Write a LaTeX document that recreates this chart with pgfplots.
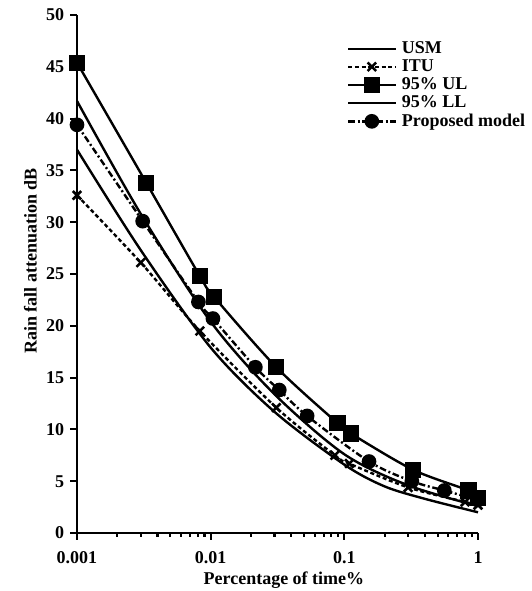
\documentclass[border=0pt]{standalone}
\usepackage{fontspec}
\setmainfont{Liberation Serif}
\usepackage{pgfplots}
\pgfplotsset{compat=1.18}
\begin{document}
\fontsize{13.5}{15}\selectfont\bfseries
\begin{tikzpicture}
\begin{axis}[
    name=ax,
    scale only axis,
    width=300.75pt, height=388.5pt,
    xmode=log,
    xmin=0.001, xmax=1,
    ymin=0, ymax=50,
    axis x line=bottom, axis y line=left,
    axis line style={line width=1.9pt, -},
    every tick/.style={line width=1.6pt, black},
    tick align=outside,
    major tick length=5pt,
    xtick={0.001,0.01,0.1,1},
    xticklabels={0.001,0.01,0.1,1},
    minor xtick={},
    ytick={0,5,...,50},
    /pgf/number format/assume math mode=true,
    tick label style={font=\fontsize{13.5}{15}\selectfont\bfseries},
    xticklabel style={yshift=-4pt},
    label style={font=\fontsize{13.5}{15}\selectfont\bfseries},
    xlabel={Percentage of time\%},
    ylabel={Rain fall attenuation dB},
    xlabel style={at={(axis description cs:0.516,-0.0907)}, anchor=center},
    ylabel style={at={(axis description cs:-0.1164,0.525)}, anchor=center, rotate=0},
    legend style={at={(0.663,0.958)}, anchor=north west, draw=none, fill=none,
        font=\fontsize{13.5}{15}\selectfont\bfseries, row sep=0pt,
        nodes={inner ysep=1.3pt, inner xsep=4pt}},
    legend cell align=left,
    legend image code/.code={\draw[mark repeat=2, mark phase=2, #1]
        plot coordinates {(0cm,0cm) (0.62cm,0cm) (1.24cm,0cm)};},
    every axis plot/.append style={line width=1.8pt, black},
    clip=false,
]
\addplot[solid, smooth, no markers] coordinates {
    (0.001,41.7) (0.003,30.8) (0.01,20.4) (0.03,13.4) (0.1,7.6) (0.3,4.6) (1,2.6)};
\addlegendentry{USM}
\addplot[densely dashed, smooth, mark=x, mark size=4.5pt, mark options={solid, line width=1.9pt}] coordinates {
    (0.001,32.6) (0.003,26.1) (0.0083,19.5) (0.031,12.1) (0.085,7.5) (0.109,6.7) (0.3,4.4) (0.8,3.0) (1,2.7)};
\addlegendentry{ITU}
\addplot[solid, smooth, mark=square*, mark size=5.2pt] coordinates {
    (0.001,45.4) (0.0033,33.8) (0.0083,24.8) (0.0106,22.8) (0.031,16.0) (0.089,10.6) (0.112,9.6) (0.327,6.1) (0.85,4.1) (1,3.4)};
\addlegendentry{95\% UL}
\addplot[solid, smooth, no markers] coordinates {
    (0.001,37.0) (0.003,27.3) (0.01,17.9) (0.03,11.7) (0.1,6.6) (0.2,4.5) (0.4,3.3) (1,2.0)};
\addlegendentry{95\% LL}
\addplot[dash pattern=on 5pt off 2pt on 1.5pt off 2pt, smooth, mark=*, mark size=4.6pt, mark options={solid}] coordinates {
    (0.001,39.4) (0.0031,30.1) (0.0081,22.3) (0.0104,20.7) (0.0216,16.0) (0.0326,13.8) (0.0527,11.3) (0.153,6.9) (0.32,5.0) (0.56,4.1) (1,3.2)};
\addlegendentry{Proposed model}
\end{axis}
\pgfresetboundingbox
\path ([shift={(-57.75pt,-43.5pt)}]ax.south west) rectangle ([shift={(39.75pt,11.25pt)}]ax.north east);
\end{tikzpicture}
\end{document}
